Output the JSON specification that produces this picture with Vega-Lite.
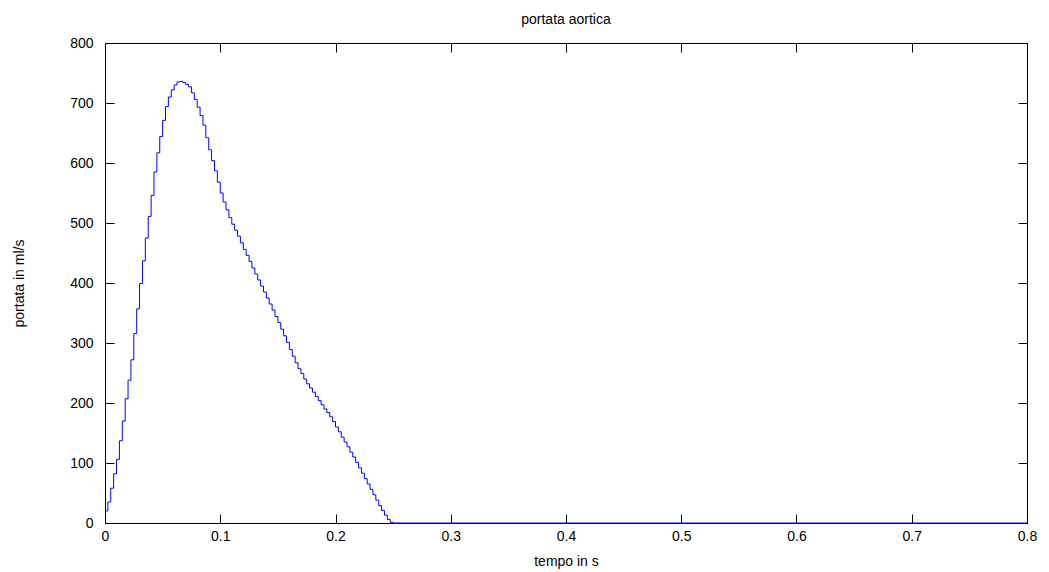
{
  "$schema": "https://vega.github.io/schema/vega-lite/v6.json",
  "autosize": {"type": "none"},
  "padding": {"left": 105, "top": 43, "right": 22, "bottom": 49},
  "width": 922,
  "height": 480,
  "background": "white",
  "title": {"text": "portata aortica", "font": "Liberation Sans", "fontSize": 14, "fontWeight": "normal", "color": "black", "offset": 9},
  "data": {"values": [
    {"t": 0.0000, "q": 20}, {"t": 0.0025, "q": 35}, {"t": 0.0050, "q": 58}, {"t": 0.0075, "q": 82},
    {"t": 0.0100, "q": 106}, {"t": 0.0125, "q": 137}, {"t": 0.0150, "q": 170}, {"t": 0.0175, "q": 207},
    {"t": 0.0200, "q": 238}, {"t": 0.0225, "q": 272}, {"t": 0.0250, "q": 316}, {"t": 0.0275, "q": 357},
    {"t": 0.0300, "q": 399}, {"t": 0.0325, "q": 437}, {"t": 0.0350, "q": 475}, {"t": 0.0375, "q": 511},
    {"t": 0.0400, "q": 546}, {"t": 0.0425, "q": 585}, {"t": 0.0450, "q": 617}, {"t": 0.0475, "q": 644},
    {"t": 0.0500, "q": 671}, {"t": 0.0525, "q": 694}, {"t": 0.0550, "q": 710}, {"t": 0.0575, "q": 722},
    {"t": 0.0600, "q": 730}, {"t": 0.0625, "q": 735}, {"t": 0.0650, "q": 736}, {"t": 0.0675, "q": 734},
    {"t": 0.0700, "q": 731}, {"t": 0.0725, "q": 727}, {"t": 0.0750, "q": 717}, {"t": 0.0775, "q": 706},
    {"t": 0.0800, "q": 693}, {"t": 0.0825, "q": 679}, {"t": 0.0850, "q": 663}, {"t": 0.0875, "q": 642},
    {"t": 0.0900, "q": 622}, {"t": 0.0925, "q": 604}, {"t": 0.0950, "q": 587}, {"t": 0.0975, "q": 568},
    {"t": 0.1000, "q": 550}, {"t": 0.1025, "q": 535}, {"t": 0.1050, "q": 522}, {"t": 0.1075, "q": 509},
    {"t": 0.1100, "q": 498}, {"t": 0.1125, "q": 488}, {"t": 0.1150, "q": 478}, {"t": 0.1175, "q": 467},
    {"t": 0.1200, "q": 456}, {"t": 0.1225, "q": 446}, {"t": 0.1250, "q": 436}, {"t": 0.1275, "q": 425},
    {"t": 0.1300, "q": 415}, {"t": 0.1325, "q": 405}, {"t": 0.1350, "q": 395}, {"t": 0.1375, "q": 385},
    {"t": 0.1400, "q": 375}, {"t": 0.1425, "q": 365}, {"t": 0.1450, "q": 355}, {"t": 0.1475, "q": 344},
    {"t": 0.1500, "q": 334}, {"t": 0.1525, "q": 323}, {"t": 0.1550, "q": 312}, {"t": 0.1575, "q": 301},
    {"t": 0.1600, "q": 289}, {"t": 0.1625, "q": 278}, {"t": 0.1650, "q": 267}, {"t": 0.1675, "q": 257},
    {"t": 0.1700, "q": 249}, {"t": 0.1725, "q": 240}, {"t": 0.1750, "q": 232}, {"t": 0.1775, "q": 225},
    {"t": 0.1800, "q": 218}, {"t": 0.1825, "q": 211}, {"t": 0.1850, "q": 204}, {"t": 0.1875, "q": 197},
    {"t": 0.1900, "q": 190}, {"t": 0.1925, "q": 184}, {"t": 0.1950, "q": 177}, {"t": 0.1975, "q": 169},
    {"t": 0.2000, "q": 160}, {"t": 0.2025, "q": 152}, {"t": 0.2050, "q": 143}, {"t": 0.2075, "q": 135},
    {"t": 0.2100, "q": 127}, {"t": 0.2125, "q": 118}, {"t": 0.2150, "q": 110}, {"t": 0.2175, "q": 101},
    {"t": 0.2200, "q": 92}, {"t": 0.2225, "q": 83}, {"t": 0.2250, "q": 74}, {"t": 0.2275, "q": 65},
    {"t": 0.2300, "q": 56}, {"t": 0.2325, "q": 47}, {"t": 0.2350, "q": 38}, {"t": 0.2375, "q": 29},
    {"t": 0.2400, "q": 21}, {"t": 0.2425, "q": 13}, {"t": 0.2450, "q": 6}, {"t": 0.2475, "q": 1},
    {"t": 0.2500, "q": 0}, {"t": 0.8000, "q": 0}
  ]},
  "config": {
    "view": {"stroke": "black", "strokeWidth": 1},
    "axis": {
      "grid": false,
      "domainColor": "black",
      "domainWidth": 1,
      "tickColor": "black",
      "tickWidth": 1,
      "tickSize": -9,
      "labelFlush": false,
      "labelFont": "Liberation Sans",
      "labelFontSize": 14,
      "labelColor": "black",
      "titleFont": "Liberation Sans",
      "titleFontSize": 14,
      "titleFontWeight": "normal",
      "titleColor": "black"
    }
  },
  "resolve": {"axis": {"x": "independent", "y": "independent"}},
  "layer": [
    {
      "mark": {"type": "line", "color": "#0000ff", "strokeWidth": 1, "interpolate": "step-after"},
      "encoding": {
        "x": {"field": "t", "type": "quantitative", "scale": {"domain": [0, 0.8], "nice": false, "zero": false},
              "axis": {"orient": "bottom", "title": "tempo in s", "values": [0, 0.1, 0.2, 0.3, 0.4, 0.5, 0.6, 0.7, 0.8], "format": ".1~f", "labelPadding": 15, "titlePadding": 11}},
        "y": {"field": "q", "type": "quantitative", "scale": {"domain": [0, 800], "nice": false},
              "axis": {"orient": "left", "title": "portata in ml/s", "values": [0, 100, 200, 300, 400, 500, 600, 700, 800], "labelPadding": 21, "titlePadding": 43}}
      }
    },
    {
      "mark": {"type": "line", "strokeOpacity": 0},
      "encoding": {
        "x": {"field": "t", "type": "quantitative",
              "axis": {"orient": "top", "title": null, "labels": false, "values": [0, 0.1, 0.2, 0.3, 0.4, 0.5, 0.6, 0.7, 0.8]}},
        "y": {"field": "q", "type": "quantitative",
              "axis": {"orient": "right", "title": null, "labels": false, "values": [0, 100, 200, 300, 400, 500, 600, 700, 800]}}
      }
    }
  ]
}
